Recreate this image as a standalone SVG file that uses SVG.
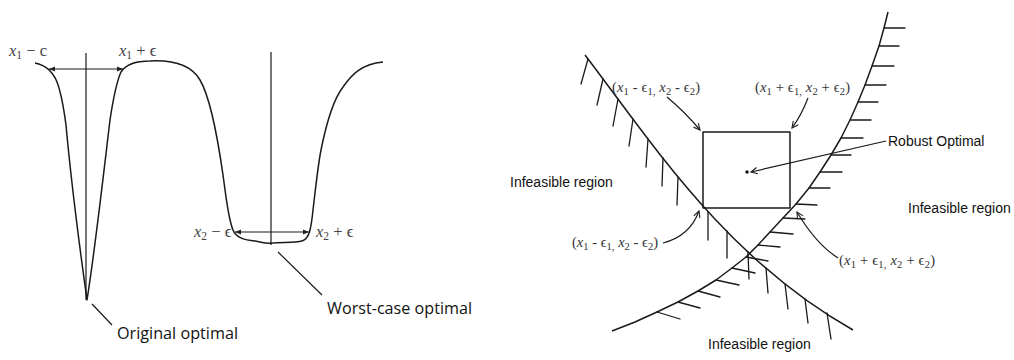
<svg xmlns="http://www.w3.org/2000/svg" width="1014" height="360" viewBox="0 0 1014 360">
<style>
.ln{stroke:#1a1a1a;stroke-width:1.5;fill:none;stroke-linejoin:round}
.thin{stroke:#1a1a1a;stroke-width:1.2;fill:none}
.h{stroke:#1a1a1a;stroke-width:1.3;fill:none;stroke-linecap:round}
.sans{font-family:"Liberation Sans",Arial,sans-serif;font-size:14px;fill:#111}
.cal{font-family:"Open Sans","Liberation Sans",sans-serif;font-size:15.5px;fill:#111}
.m{font-family:"Liberation Serif","DejaVu Serif",serif;font-size:14.5px;fill:#333}
.mL{font-family:"Liberation Serif","DejaVu Serif",serif;font-size:16.5px;fill:#444}
.i{font-style:italic}
.sub{font-size:10.5px}
.subL{font-size:11.5px}
</style>
<defs>
<marker id="open" viewBox="0 0 10 10" refX="9" refY="5" markerWidth="8" markerHeight="8" orient="auto" markerUnits="userSpaceOnUse"><path d="M1,1 L9,5 L1,9" fill="none" stroke="#222" stroke-width="1.4"/></marker>
<marker id="tri" viewBox="0 0 10 10" refX="10" refY="5" markerWidth="6" markerHeight="6" orient="auto-start-reverse" markerUnits="userSpaceOnUse"><path d="M0,1 L10,5 L0,9 z" fill="#222"/></marker>
</defs>

<!-- LEFT FIGURE -->
<g id="objective-curve">
<path class="ln" d="M35,63 C45,65 53,72 57,82 C62,95 64,110 66,125 C71,180 80,250 87,300 C95,250 104,170 110,120 C113,100 116,83 121,72 C126,64 135,61 150,61 C170,60 190,63 200,80 C210,97 218,140 223,175 C226,196 228,218 233,230 C236,238 245,240 255,241 C262,242 266,244 272,243 C282,242 295,243 302,241 C309,239 311,230 313,210 C316,185 318,165 321,150 C326,125 333,100 343,87 C352,74 362,64 383,62"/>
</g>
<g id="axis-x1"><line class="thin" x1="86" y1="53" x2="86" y2="300"/></g>
<g id="axis-x2"><line class="thin" x1="271" y1="52" x2="271" y2="245"/></g>
<g id="label-x1-minus"><text class="mL" x="9" y="56"><tspan class="i">x</tspan><tspan class="subL" dy="3">1</tspan><tspan dy="-3"> − c</tspan></text></g>
<g id="label-x1-plus"><text class="mL" x="119" y="56"><tspan class="i">x</tspan><tspan class="subL" dy="3">1</tspan><tspan dy="-3"> + ϵ</tspan></text></g>
<g id="label-x2-minus"><text class="mL" x="194" y="237"><tspan class="i">x</tspan><tspan class="subL" dy="3">2</tspan><tspan dy="-3"> − ϵ</tspan></text></g>
<g id="label-x2-plus"><text class="mL" x="316" y="237"><tspan class="i">x</tspan><tspan class="subL" dy="3">2</tspan><tspan dy="-3"> + ϵ</tspan></text></g>
<g id="original-optimal"><text class="cal" x="117" y="339" textLength="121" lengthAdjust="spacingAndGlyphs">Original optimal</text></g>
<g id="worst-case-optimal"><text class="cal" x="327" y="314" textLength="145" lengthAdjust="spacingAndGlyphs">Worst-case optimal</text></g>

<!-- RIGHT FIGURE -->
<g id="constraint-a">
<path class="ln" d="M585,55 C650,140 725,258 853,330"/>
<path class="h" d="M588,59 L581,84 M603,79 L597,105 M618,99 L613,126 M633,119 L629,146 M648,139 L646,167 M663,158 L662,186 M678,177 L677,205 M708,212 L708,240 M727,231 L727,258 M748,252 L749,279 M766,268 L768,293 M785,284 L788,309 M805,299 L808,323 M827,313 L831,339"/>
</g>
<g id="constraint-b">
<path class="ln" d="M888,12 L884,28 L879,46 L872,66 L865,85 L858,102 L850,120 L841,138 L831,155 L820,172 L809,188 L796,204 L783,218 L770,232 L758,245 L746,257 L732,268 L716,280 L698,291 L678,302 L657,312 L635,322 L612,331"/>
<path class="h" d="M884,28 h21 M879,46 h20 M872,66 h22 M865,85 h21 M858,102 h20 M850,120 h21 M841,138 h22 M831,155 h20 M820,172 h22 M809,188 h21 M796,204 l21,1 M783,218 l22,1 M770,232 l23,2 M758,245 l22,2 M746,257 l22,4 M732,268 l23,5 M716,280 l23,5 M698,291 l22,6 M678,302 l22,6 M657,312 l23,7"/>
</g>
<g id="robust-box">
<rect class="ln" x="703" y="132" width="87" height="76"/>
<circle cx="747" cy="172" r="1.7" fill="#111"/>
</g>
<g id="label-tl"><text class="m" x="612" y="92" textLength="88" lengthAdjust="spacing">(<tspan class="i">x</tspan><tspan class="sub" dy="3">1</tspan><tspan dy="-3"> - ϵ</tspan><tspan class="sub" dy="3">1,</tspan><tspan dy="-3"> </tspan><tspan class="i">x</tspan><tspan class="sub" dy="3">2</tspan><tspan dy="-3"> - ϵ</tspan><tspan class="sub" dy="3">2</tspan><tspan dy="-3">)</tspan></text></g>
<g id="label-tr"><text class="m" x="755" y="92" textLength="95" lengthAdjust="spacing">(<tspan class="i">x</tspan><tspan class="sub" dy="3">1</tspan><tspan dy="-3"> + ϵ</tspan><tspan class="sub" dy="3">1,</tspan><tspan dy="-3"> </tspan><tspan class="i">x</tspan><tspan class="sub" dy="3">2</tspan><tspan dy="-3"> + ϵ</tspan><tspan class="sub" dy="3">2</tspan><tspan dy="-3">)</tspan></text></g>
<g id="label-bl"><text class="m" x="572" y="247" textLength="86" lengthAdjust="spacing">(<tspan class="i">x</tspan><tspan class="sub" dy="3">1</tspan><tspan dy="-3"> - ϵ</tspan><tspan class="sub" dy="3">1,</tspan><tspan dy="-3"> </tspan><tspan class="i">x</tspan><tspan class="sub" dy="3">2</tspan><tspan dy="-3"> - ϵ</tspan><tspan class="sub" dy="3">2</tspan><tspan dy="-3">)</tspan></text></g>
<g id="label-br"><text class="m" x="839" y="265" textLength="96" lengthAdjust="spacing">(<tspan class="i">x</tspan><tspan class="sub" dy="3">1</tspan><tspan dy="-3"> + ϵ</tspan><tspan class="sub" dy="3">1,</tspan><tspan dy="-3"> </tspan><tspan class="i">x</tspan><tspan class="sub" dy="3">2</tspan><tspan dy="-3"> + ϵ</tspan><tspan class="sub" dy="3">2</tspan><tspan dy="-3">)</tspan></text></g>
<g id="robust-optimal"><text class="sans" x="888" y="146">Robust Optimal</text></g>
<g id="infeasible-left"><text class="sans" x="510" y="187">Infeasible region</text></g>
<g id="infeasible-right"><text class="sans" x="908" y="213">Infeasible region</text></g>
<g id="infeasible-bottom"><text class="sans" x="708" y="349">Infeasible region</text></g>

<g id="connectors">
<line class="thin" x1="49" y1="69" x2="123" y2="69" marker-start="url(#tri)" marker-end="url(#tri)"/>
<line class="thin" x1="235" y1="232" x2="309" y2="232" marker-start="url(#tri)" marker-end="url(#tri)"/>
<line class="thin" x1="112" y1="325" x2="92" y2="304"/>
<line class="thin" x1="322" y1="295" x2="278" y2="252"/>
<path class="thin" d="M667,97 Q685,112 700,130" marker-end="url(#open)"/>
<path class="thin" d="M808,98 Q801,116 792,128" marker-end="url(#open)"/>
<line class="thin" x1="886" y1="141" x2="751" y2="172" marker-end="url(#open)"/>
<path class="thin" d="M663,243 Q690,236 699,211" marker-end="url(#open)"/>
<path class="thin" d="M838,258 Q816,244 797,212" marker-end="url(#open)"/>
</g>
</svg>
